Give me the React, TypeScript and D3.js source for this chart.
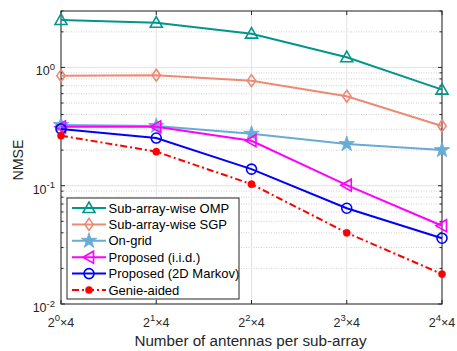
import React from 'react';
import * as d3 from 'd3';

const xExponents = [0, 1, 2, 3, 4];
const yDecades = [-2, -1, 0];
const ompValues = [2.52, 2.39, 1.93, 1.22, 0.649];
const sgpValues = [0.852, 0.86, 0.773, 0.57, 0.32];
const onGridValues = [0.326, 0.32, 0.275, 0.225, 0.2];
const iidValues = [0.315, 0.315, 0.24, 0.101, 0.0459];
const markovValues = [0.302, 0.253, 0.138, 0.0645, 0.036];
const genieValues = [0.265, 0.194, 0.103, 0.04, 0.0179];

const seriesNames = ['Sub-array-wise OMP', 'Sub-array-wise SGP', 'On-grid', 'Proposed (i.i.d.)', 'Proposed (2D Markov)', 'Genie-aided'];
const seriesData = [ompValues, sgpValues, onGridValues, iidValues, markovValues, genieValues];
const seriesColors = ['#00968a', '#ec8a74', '#68acd6', '#ff00ff', '#0000ff', '#ff0000'];
const seriesMarkers = ['triangle', 'diamond', 'star', 'left', 'circle', 'dot'];

const W = 457, H = 351;
const L = 61, R = 442, T = 11, B = 304;
const FONT = 'Liberation Sans, Arial, Helvetica, sans-serif';

function Marker({ type, x, y, color }: { type: string; x: number; y: number; color: string }) {
  const sw = 1.6;
  if (type === 'triangle') {
    const s = 6;
    return <path d={`M${x},${y - s}L${x + s},${y + s * 0.75}L${x - s},${y + s * 0.75}Z`} fill="none" stroke={color} strokeWidth={sw} />;
  }
  if (type === 'diamond') {
    const s = 6;
    return <path d={`M${x},${y - s}L${x + s * 0.7},${y}L${x},${y + s}L${x - s * 0.7},${y}Z`} fill="none" stroke={color} strokeWidth={sw} />;
  }
  if (type === 'star') {
    const p = d3.symbol(d3.symbolStar, 75)();
    return <path d={p || ''} transform={`translate(${x},${y})`} fill={color} stroke={color} strokeWidth={0.8} />;
  }
  if (type === 'left') {
    const s = 6;
    return <path d={`M${x - s},${y}L${x + s * 0.75},${y - s}L${x + s * 0.75},${y + s}Z`} fill="none" stroke={color} strokeWidth={sw} />;
  }
  if (type === 'circle') {
    return <circle cx={x} cy={y} r={5} fill="none" stroke={color} strokeWidth={sw} />;
  }
  return <circle cx={x} cy={y} r={3.6} fill={color} stroke={color} strokeWidth={0.5} />;
}

export default function App() {
  const x = d3.scalePoint<number>().domain(xExponents).range([L, R]);
  const y = d3.scaleLog().domain([0.01, 3]).range([B, T]);
  const line = d3.line<number>().x((_, i) => x(xExponents[i]) as number).y((v) => y(v));

  const minor: number[] = [];
  for (let d = -2; d <= 0; d++) {
    for (let m = 2; m <= 9; m++) {
      const v = m * Math.pow(10, d);
      if (v <= 3) minor.push(v);
    }
  }

  const legX = 67, legY = 198, legW = 172, legH = 101;
  const rowY = (i: number) => 208 + i * 16.4;

  return (
    <svg width={W} height={H} style={{ position: 'absolute', left: 0, top: 0, background: '#fff' }} fontFamily={FONT}>
      <rect x={0} y={0} width={W} height={H} fill="#fff" />
      {/* grid */}
      {minor.map((v, i) => (
        <line key={'mg' + i} x1={L} x2={R} y1={y(v)} y2={y(v)} stroke="#bdbdbd" strokeWidth={0.7} strokeDasharray="1,1.5" />
      ))}
      {yDecades.map((d) => (
        <line key={'yg' + d} x1={L} x2={R} y1={y(Math.pow(10, d))} y2={y(Math.pow(10, d))} stroke="#e3e3e3" strokeWidth={1} />
      ))}
      {xExponents.map((e) => (
        <line key={'xg' + e} x1={x(e)} x2={x(e)} y1={T} y2={B} stroke="#e3e3e3" strokeWidth={1} />
      ))}
      {/* axes box */}
      <rect x={L} y={T} width={R - L} height={B - T} fill="none" stroke="#262626" strokeWidth={1} />
      {/* ticks */}
      {xExponents.map((e) => (
        <g key={'xt' + e}>
          <line x1={x(e)} x2={x(e)} y1={B} y2={B - 4} stroke="#262626" />
          <line x1={x(e)} x2={x(e)} y1={T} y2={T + 4} stroke="#262626" />
        </g>
      ))}
      {yDecades.map((d) => (
        <g key={'yt' + d}>
          <line x1={L} x2={L + 4} y1={y(Math.pow(10, d))} y2={y(Math.pow(10, d))} stroke="#262626" />
          <line x1={R} x2={R - 4} y1={y(Math.pow(10, d))} y2={y(Math.pow(10, d))} stroke="#262626" />
        </g>
      ))}
      {minor.map((v, i) => (
        <g key={'mt' + i}>
          <line x1={L} x2={L + 2.5} y1={y(v)} y2={y(v)} stroke="#262626" />
          <line x1={R} x2={R - 2.5} y1={y(v)} y2={y(v)} stroke="#262626" />
        </g>
      ))}
      {/* tick labels */}
      {xExponents.map((e) => (
        <text key={'xl' + e} x={x(e)} y={326.5} fontSize={12.5} fill="#262626" textAnchor="middle">
          2<tspan dy={-5.5} fontSize={9.5}>{e}</tspan><tspan dy={5.5} fontSize={12.5}>×4</tspan>
        </text>
      ))}
      {yDecades.map((d) => (
        <text key={'yl' + d} x={55} y={y(Math.pow(10, d)) + 8} fontSize={12.5} fill="#262626" textAnchor="end">
          10<tspan dy={-5.5} fontSize={9.5}>{d}</tspan>
        </text>
      ))}
      <text x={250.5} y={346} fontSize={15.2} fill="#262626" textAnchor="middle">Number of antennas per sub-array</text>
      <text transform={`translate(23,${160}) rotate(-90)`} fontSize={14.2} fill="#262626" textAnchor="middle">NMSE</text>
      {/* series */}
      {seriesData.map((vals, si) => (
        <g key={'s' + si}>
          <path d={line(vals) || ''} fill="none" stroke={seriesColors[si]} strokeWidth={2}
            strokeDasharray={seriesMarkers[si] === 'dot' ? '7,3,2,3' : undefined} />
          {vals.map((v, i) => (
            <Marker key={i} type={seriesMarkers[si]} x={x(xExponents[i]) as number} y={y(v)} color={seriesColors[si]} />
          ))}
        </g>
      ))}
      {/* legend */}
      <rect x={legX} y={legY} width={legW} height={legH} fill="#fff" stroke="#262626" strokeWidth={1} />
      {seriesNames.map((n, i) => (
        <g key={'lg' + i}>
          <line x1={72} x2={106} y1={rowY(i)} y2={rowY(i)} stroke={seriesColors[i]} strokeWidth={2}
            strokeDasharray={seriesMarkers[i] === 'dot' ? '7,3,2,3' : undefined} />
          <Marker type={seriesMarkers[i]} x={89} y={rowY(i)} color={seriesColors[i]} />
          <text x={108.5} y={rowY(i) + 4.6} fontSize={13} fill="#000">{n}</text>
        </g>
      ))}
    </svg>
  );
}
